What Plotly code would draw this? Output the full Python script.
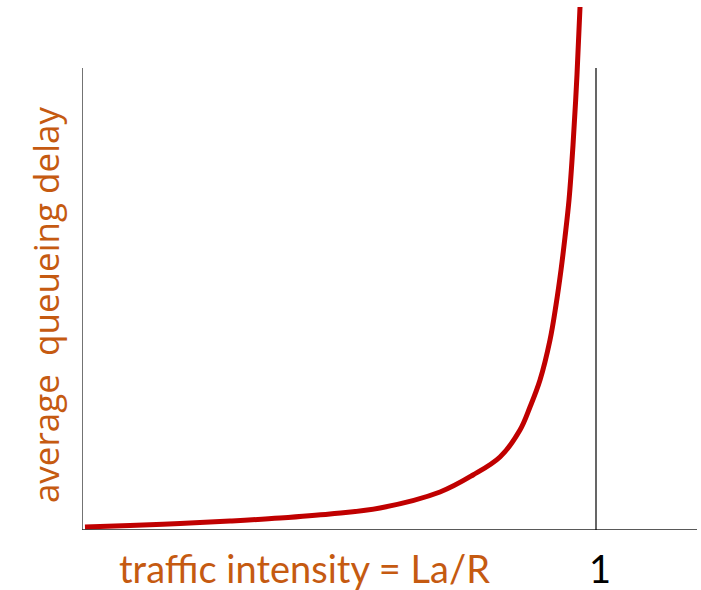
import plotly.graph_objects as go

# traffic intensity (La/R) and average queueing delay (arbitrary units)
intensity = [0.0058, 0.0934, 0.1907, 0.2879, 0.3852, 0.4825, 0.5798, 0.6965, 0.7607,
             0.8132, 0.8521, 0.8716, 0.8911, 0.9105, 0.9222, 0.9319, 0.9397, 0.9475,
             0.9553, 0.9630, 0.9689]
delay = [0.06, 0.09, 0.13, 0.18, 0.24, 0.32, 0.44, 0.76, 1.10,
         1.46, 2.00, 2.46, 3.00, 3.80, 4.50, 5.20, 5.86, 6.60,
         7.70, 9.10, 10.46]

x_label = "traffic intensity = La/R"
y_label = "average  queueing delay"
one_label = "1"

X_MAX = 1.1965
Y_MAX = 10.6
AXIS_TOP = 9.24

fig = go.Figure()
fig.add_trace(go.Scatter(
    x=intensity, y=delay, mode="lines",
    line=dict(color="#C00000", width=5, shape="spline", smoothing=1.0),
    cliponaxis=False, hoverinfo="skip", showlegend=False,
))

# axis lines
fig.add_shape(type="line", xref="x", yref="y", x0=0, x1=0, y0=0, y1=AXIS_TOP,
              line=dict(color="#444444", width=1.5))
fig.add_shape(type="line", xref="x", yref="y", x0=0, x1=X_MAX, y0=0, y1=0,
              line=dict(color="#222222", width=1.5))
fig.add_shape(type="line", xref="x", yref="y", x0=1, x1=1, y0=0, y1=AXIS_TOP,
              line=dict(color="#000000", width=1.2))

orange = "#C55A11"
fig.add_annotation(x=0.432, y=-0.072, xref="x", yref="paper", text=x_label,
                   showarrow=False, font=dict(family="Lato", size=38, color=orange),
                   xanchor="center", yanchor="middle")
fig.add_annotation(x=1.008, y=-0.072, xref="x", yref="paper", text=one_label,
                   showarrow=False, font=dict(family="Lato", size=38, color="#000000"),
                   xanchor="center", yanchor="middle")
fig.add_annotation(x=-0.06, y=4.5, xref="paper", yref="y", text=y_label,
                   showarrow=False, textangle=-90,
                   font=dict(family="Open Sans", size=35, color=orange),
                   xanchor="center", yanchor="middle")

fig.update_xaxes(range=[0, X_MAX], visible=False, fixedrange=True)
fig.update_yaxes(range=[0, Y_MAX], visible=False, fixedrange=True)
fig.update_layout(
    width=701, height=590,
    margin=dict(l=82, r=4, t=0, b=60),
    plot_bgcolor="white", paper_bgcolor="white",
)

fig.write_html(
    "out.html",
    config={"displayModeBar": False},
    post_script="document.body.style.margin='0';document.body.style.overflow='hidden';",
)
